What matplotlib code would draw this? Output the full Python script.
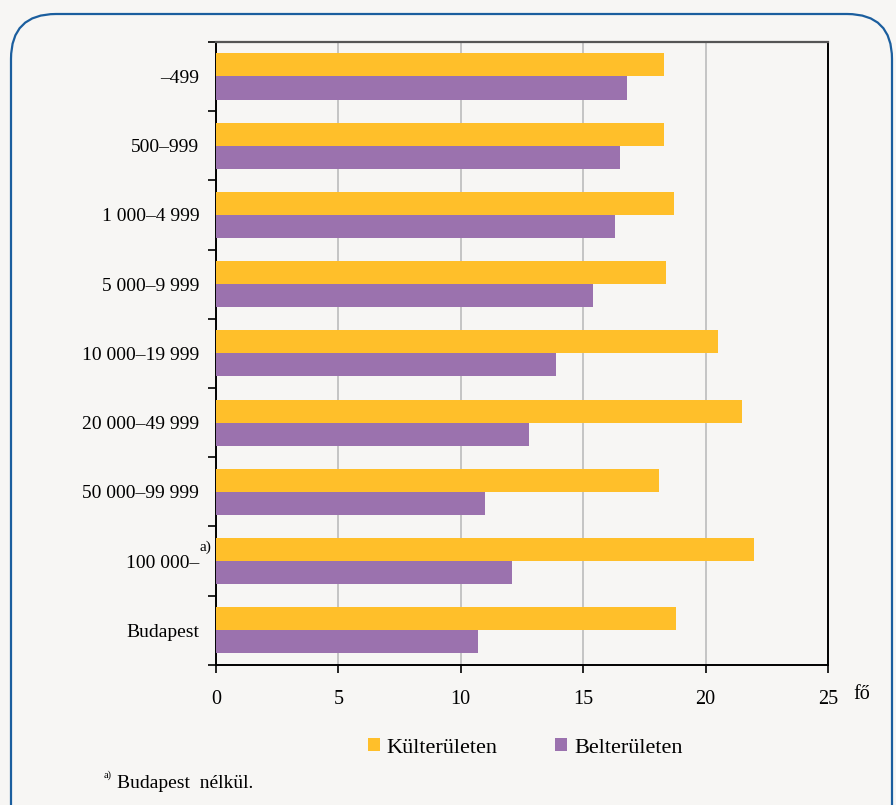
import matplotlib.pyplot as plt
from matplotlib.patches import FancyBboxPatch
import numpy as np

# --- data ---
categories = ["–499", "500–999", "1 000–4 999", "5 000–9 999", "10 000–19 999",
              "20 000–49 999", "50 000–99 999", "100 000–", "Budapest"]
kulterulet = [18.3, 18.3, 18.7, 18.4, 20.5, 21.5, 18.1, 22.0, 18.8]
belterulet = [16.8, 16.5, 16.3, 15.4, 13.9, 12.8, 11.0, 12.1, 10.7]
series_names = ["Külterületen", "Belterületen"]
x_ticks = [0, 5, 10, 15, 20, 25]

ORANGE = "#FFBF2A"
PURPLE = "#9B72AE"
BG = "#F7F6F4"
FONT = "Liberation Serif"

plt.rcParams["font.family"] = FONT

fig = plt.figure(figsize=(8.96, 8.05), dpi=100, facecolor=BG)

# rounded frame around the whole chart
frame = FancyBboxPatch((0.11, -0.5), 8.81, 8.41,
                       boxstyle="round,pad=0,rounding_size=0.45",
                       transform=fig.dpi_scale_trans, facecolor="none",
                       edgecolor="#1B5E9E", linewidth=1.6, zorder=0)
fig.patches.append(frame)

ax = fig.add_axes([0.241, 0.174, 0.683, 0.774])
ax.set_facecolor(BG)

y = np.arange(len(categories))
h = 0.333
ax.barh(y - h / 2, kulterulet, height=h, color=ORANGE, label=series_names[0], zorder=3)
ax.barh(y + h / 2, belterulet, height=h, color=PURPLE, label=series_names[1], zorder=3)

ax.set_ylim(len(categories) - 0.5, -0.5)
ax.set_xlim(0, 25)

ax.set_xticks(x_ticks)
ax.set_xticklabels([str(t) for t in x_ticks], fontsize=14.5)
ax.set_yticks(y)
ax.set_yticklabels(categories, fontsize=14)
ax.set_yticks(np.arange(len(categories) + 1) - 0.5, minor=True)
ax.tick_params(axis="y", which="major", length=0, pad=12)
ax.tick_params(axis="y", which="minor", length=6, width=1.2, direction="out")
ax.tick_params(axis="x", length=6, width=1.2, direction="out", pad=12)

ax.grid(axis="x", color="#C4C4C4", linewidth=1.4, zorder=0)
ax.grid(axis="y", visible=False)

ax.spines["top"].set_color("#555555")
ax.spines["top"].set_linewidth(1.6)
for s in ("left", "right", "bottom"):
    ax.spines[s].set_color("black")
    ax.spines[s].set_linewidth(1.4)

# superscript footnote marker on the 100 000– label
ax.text(-0.42, 6.80, "a)", transform=ax.transData, fontsize=11,
        ha="center", va="center")

# unit label
fig.text(0.962, 0.137, "fő", fontsize=14.5, ha="center", va="center")

fig.legend(loc="center", bbox_to_anchor=(0.586, 0.071), ncol=2, frameon=False,
           fontsize=16, handlelength=0.55, handleheight=0.55, handletextpad=0.3,
           columnspacing=2.6)

fig.text(0.116, 0.031, "a)", fontsize=7.5, ha="left", va="bottom")
fig.text(0.131, 0.027, "Budapest  nélkül.", fontsize=14, ha="left", va="center")

fig.savefig("out.png", dpi=100, facecolor=BG)
